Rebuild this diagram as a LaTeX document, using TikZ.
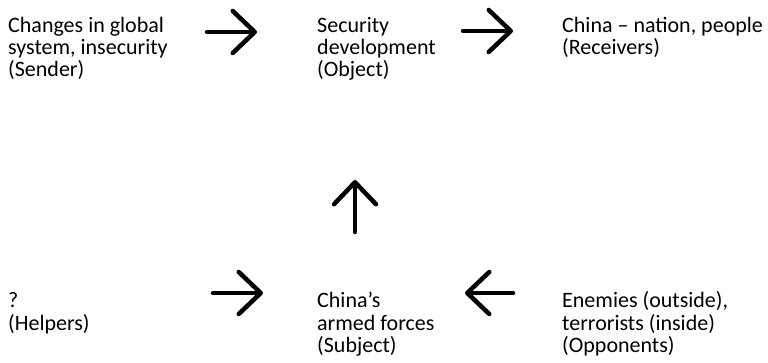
\documentclass[tikz,border=0pt]{standalone}
\usepackage{fontspec}
\setmainfont{Carlito}
\usetikzlibrary{arrows.meta}

\begin{document}
\begin{tikzpicture}[
			x=1pt, y=-1pt,
			label/.style = {anchor=base west, align=left, inner sep=0pt,
				font=\fontsize{22}{22}\selectfont},
			flow/.style = {line width=4.5pt, line cap=round,
				-{Straight Barb[length=22pt, width=42pt, round]}}
			]
			
			\useasboundingbox (0,0) rectangle (768,363);
			
			% Top row (base = last line)
			\node[label] (sender) at (8,77) {Changes in global\\system, insecurity\\(Sender)};
			\node[label] (object) at (317,77) {Security\\development\\(Object)};
			\node[label] (receivers) at (562,55) {China -- nation, people\\(Receivers)};
			
			% Bottom row
			\node[label] (helpers) at (8,330) {?\\(Helpers)};
			\node[label] (subject) at (317,352) {China’s\\armed forces\\(Subject)};
			\node[label] (opponents) at (562,352) {Enemies (outside),\\terrorists (inside)\\(Opponents)};
			
			% Arrow ends
			\coordinate (s1) at (207,32);  \coordinate (o1) at (257,32);
			\coordinate (s2) at (463,31);  \coordinate (o2) at (513,31);
			\coordinate (s3) at (355,232); \coordinate (o3) at (355,180);
			\coordinate (s4) at (213,293); \coordinate (o4) at (263,293);
			\coordinate (s5) at (513,293); \coordinate (o5) at (465,293);
			
			\draw[flow] (s1) -- (o1);
			\draw[flow] (s2) -- (o2);
			\draw[flow] (s3) -- (o3);
			\draw[flow] (s4) -- (o4);
			\draw[flow] (s5) -- (o5);
			
		\end{tikzpicture}
\end{document}
